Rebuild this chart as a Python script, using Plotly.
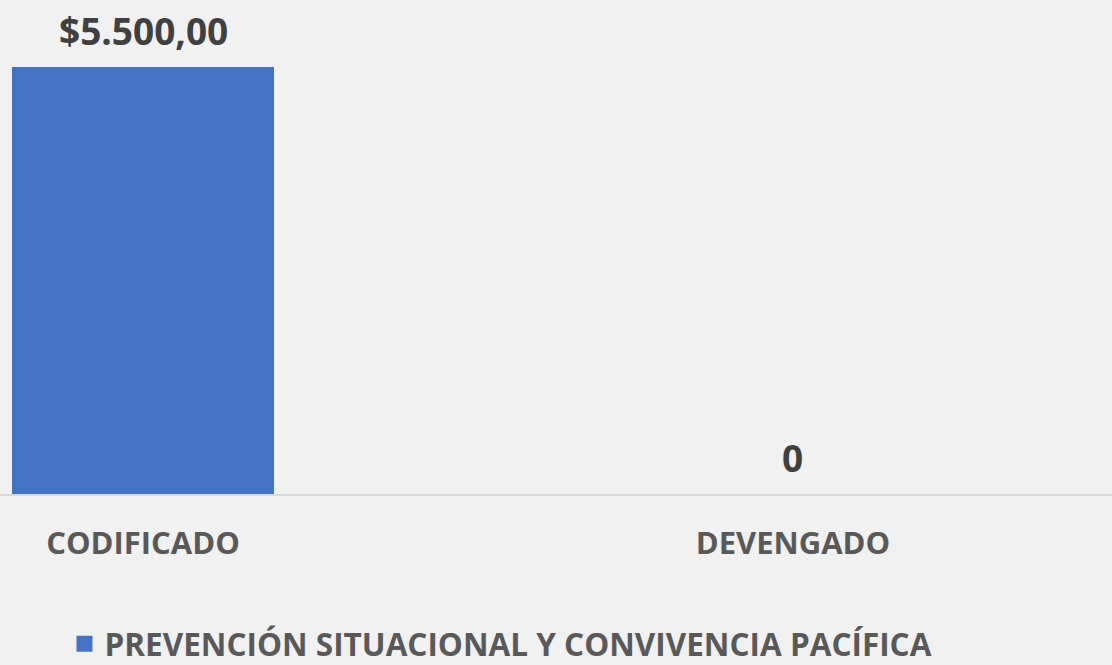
import plotly.graph_objects as go

categories = ["CODIFICADO", "DEVENGADO"]
values = [5500.0, 0.0]
value_labels = ["$5.500,00", "0"]
series_name = "PREVENCIÓN SITUACIONAL Y CONVIVENCIA PACÍFICA"

BAR_COLOR = "#4472C4"
BG = "#f1f1f1"
FONT = "Open Sans"

fig = go.Figure()
fig.add_trace(go.Bar(
    x=categories, y=values,
    marker=dict(color=BAR_COLOR, line=dict(width=0)),
    width=0.403, showlegend=False, name=series_name,
))
# legend entry with larger square symbol
fig.add_trace(go.Scatter(
    x=[None], y=[None], mode="markers", name=series_name,
    marker=dict(symbol="square", size=20, color=BAR_COLOR),
    showlegend=True,
))

for cat, val, lab in zip(categories, values, value_labels):
    fig.add_annotation(
        x=cat, y=val, text=lab, showarrow=False,
        xanchor="center", yanchor="middle", yshift=37,
        font=dict(family=FONT, size=37, color="#404040", weight="bold"),
    )

fig.update_layout(
    width=1112, height=665,
    margin=dict(l=0, r=0, t=0, b=171, autoexpand=False),
    paper_bgcolor=BG, plot_bgcolor=BG,
    font=dict(family=FONT, color="#595959"),
    xaxis=dict(
        range=[-0.22, 1.4908], showgrid=False, zeroline=False,
        showline=True, linecolor="#d9d9d9", linewidth=2,
        ticks="", ticklabelstandoff=21, automargin=False,
        tickfont=dict(family=FONT, size=31, color="#595959", weight="bold"),
    ),
    yaxis=dict(range=[0, 6363], visible=False, showgrid=False, zeroline=False),
    legend=dict(
        orientation="h", x=0.058, xanchor="left",
        yref="container", y=0.032, yanchor="middle",
        font=dict(family=FONT, size=31.5, color="#595959", weight="bold"),
        bgcolor="rgba(0,0,0,0)", itemwidth=30,
    ),
    bargap=0,
)

fig.write_html("out.html", config={"displayModeBar": False},
               post_script="document.body.style.margin='0';")
